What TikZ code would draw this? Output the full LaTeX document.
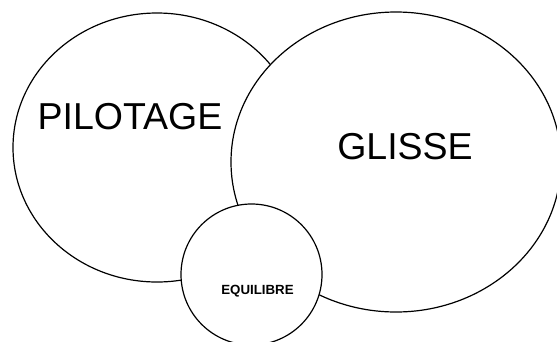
\documentclass[tikz,border=0pt]{standalone}
\usepackage{fontspec}
\setmainfont{Liberation Sans}
\usetikzlibrary{shapes.geometric}
\begin{document}
\begin{tikzpicture}[x=1pt,y=-1pt]
  \useasboundingbox (0,0) rectangle (557,341);
  \tikzset{zone/.style={draw,ellipse,fill=white,line width=1.2pt,inner sep=0pt}}
  \node[zone,minimum width=288pt,minimum height=269pt] (pilotage) at (157,147.5) {};
  \node[zone,minimum width=330pt,minimum height=300pt] (glisse) at (396,162) {};
  \node[zone,minimum width=141pt,minimum height=141pt] (equilibre) at (251.5,274.5) {};
  \node (tpil) at (130,117) {\fontsize{37.5}{45}\selectfont PILOTAGE};
  \node (tgli) at (405,147) {\fontsize{37.5}{45}\selectfont GLISSE};
  \node (tequ) at (257.5,291) {\fontsize{13.3}{16}\selectfont\bfseries EQUILIBRE};
\end{tikzpicture}
\end{document}
